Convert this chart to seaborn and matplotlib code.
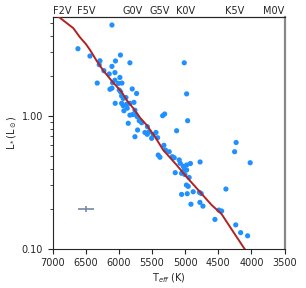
import numpy as np
import pandas as pd
import matplotlib
matplotlib.use("Agg")
import matplotlib.pyplot as plt
import matplotlib.ticker as mticker
import seaborn as sns

# observed stars
teff = [6105, 6618, 6437, 6286, 6297, 5977, 6052, 6105, 6226, 6146,
        6060, 5985, 6327, 6060, 6095, 6007, 5954, 5834, 5014, 6135,
        6105, 5995, 5974, 5799, 5733, 5959, 5935, 5894, 6056, 5959,
        5935, 5883, 5834, 5773, 5924, 5874, 5758, 5834, 5793, 5743,
        5724, 5859, 5693, 5657, 5570, 5718, 5758, 5542, 5482, 5441,
        5607, 5573, 5506, 5416, 5340, 5310, 5129, 4978, 4963, 5321,
        5298, 5241, 5407, 5381, 5195, 5165, 5090, 5075, 5030, 4978,
        4921, 4775, 5014, 4978, 5150, 5054, 5004, 4940, 4981, 4954,
        5054, 4969, 4879, 4785, 4759, 4913, 4778, 4732, 4385, 4551,
        4491, 4450, 4237, 4163, 4058, 4231, 4254, 4019]
lum = [4.81, 3.19, 2.81, 2.59, 2.42, 2.86, 2.58, 2.35, 2.18, 2.06,
       2.11, 1.94, 1.76, 1.85, 1.77, 1.75, 1.76, 2.50, 2.50, 1.58,
       1.61, 1.56, 1.51, 1.59, 1.47, 1.41, 1.35, 1.37, 1.24, 1.24,
       1.19, 1.22, 1.24, 1.26, 1.09, 1.14, 1.10, 1.01, 1.02, 1.02,
       0.983, 0.877, 0.917, 0.886, 0.827, 0.781, 0.695, 0.758, 0.722, 0.748,
       0.748, 0.725, 0.676, 0.683, 1.00, 1.03, 0.771, 1.46, 0.917, 0.599,
       0.552, 0.536, 0.506, 0.487, 0.492, 0.483, 0.465, 0.439, 0.417, 0.426,
       0.437, 0.449, 0.395, 0.391, 0.373, 0.369, 0.361, 0.343, 0.301, 0.294,
       0.256, 0.259, 0.268, 0.265, 0.260, 0.216, 0.223, 0.209, 0.281, 0.166,
       0.195, 0.192, 0.151, 0.132, 0.125, 0.629, 0.536, 0.443]

# main sequence track
ms_teff = [7000, 6905, 6689, 6588, 6498, 6437, 6336, 6237, 6105, 5959,
           5883, 5784, 5683, 5582, 5456, 5331, 5230, 5129, 4978, 4827,
           4601, 4450, 4275, 4109, 4000]
ms_lum = [6.0, 5.52, 4.56, 3.89, 3.46, 3.13, 2.59, 2.19, 1.82, 1.51,
          1.31, 1.14, 0.969, 0.851, 0.695, 0.552, 0.485, 0.426, 0.346, 0.285,
          0.213, 0.182, 0.134, 0.1006, 0.085]

# typical error
err_teff = 6500
err_lum = 0.2
err_t = 120
err_l = 0.01

spt_labels = ['F2V', 'F5V', 'G0V', 'G5V', 'K0V', 'K5V', 'M0V']
spt_teff = [6852, 6498, 5788, 5389, 4989, 4249, 3661]

sns.set_style('ticks')
plt.rcParams['font.family'] = ['DejaVu Sans']

stars = pd.DataFrame({'Teff': teff, 'L': lum})
track = pd.DataFrame({'Teff': ms_teff, 'L': ms_lum})

fig = plt.figure(figsize=(3.06, 2.88), dpi=100)
ax = fig.add_axes([0.172, 0.1365, 0.758, 0.8035])

sns.lineplot(data=track, x='Teff', y='L', sort=False, color='#b22222',
             linewidth=1.4, ax=ax, zorder=3)
sns.scatterplot(data=stars, x='Teff', y='L', color='#1e90ff', s=14,
                edgecolor='none', ax=ax, zorder=2)
ax.errorbar(err_teff, err_lum, xerr=err_t, yerr=err_l, fmt='none',
            ecolor='#7789a8', elinewidth=1.2)

ax.set_yscale('log')
ax.set_xlim(7000, 3500)
ax.set_ylim(0.1, 5.5)
ax.set_xticks(np.arange(7000, 3499, -500))
ax.yaxis.set_major_locator(mticker.FixedLocator([0.1, 1.0]))
ax.yaxis.set_major_formatter(mticker.FormatStrFormatter('%.2f'))
ax.yaxis.set_minor_locator(mticker.LogLocator(base=10, subs=np.arange(2, 10)))
ax.yaxis.set_minor_formatter(mticker.NullFormatter())
ax.tick_params(labelsize=7)
ax.set_xlabel(r'T$_{eff}$ (K)', fontsize=7, labelpad=2)
ax.set_ylabel(r'L$_*$(L$_\odot$)', fontsize=7, labelpad=2)

ax.spines['right'].set_color('#888888')
ax.spines['right'].set_linewidth(1.6)

top = ax.secondary_xaxis('top')
top.set_xticks(spt_teff)
top.set_xticklabels(spt_labels)
top.tick_params(length=0, labelsize=7, pad=1)

fig.savefig('out.png', dpi=100)
